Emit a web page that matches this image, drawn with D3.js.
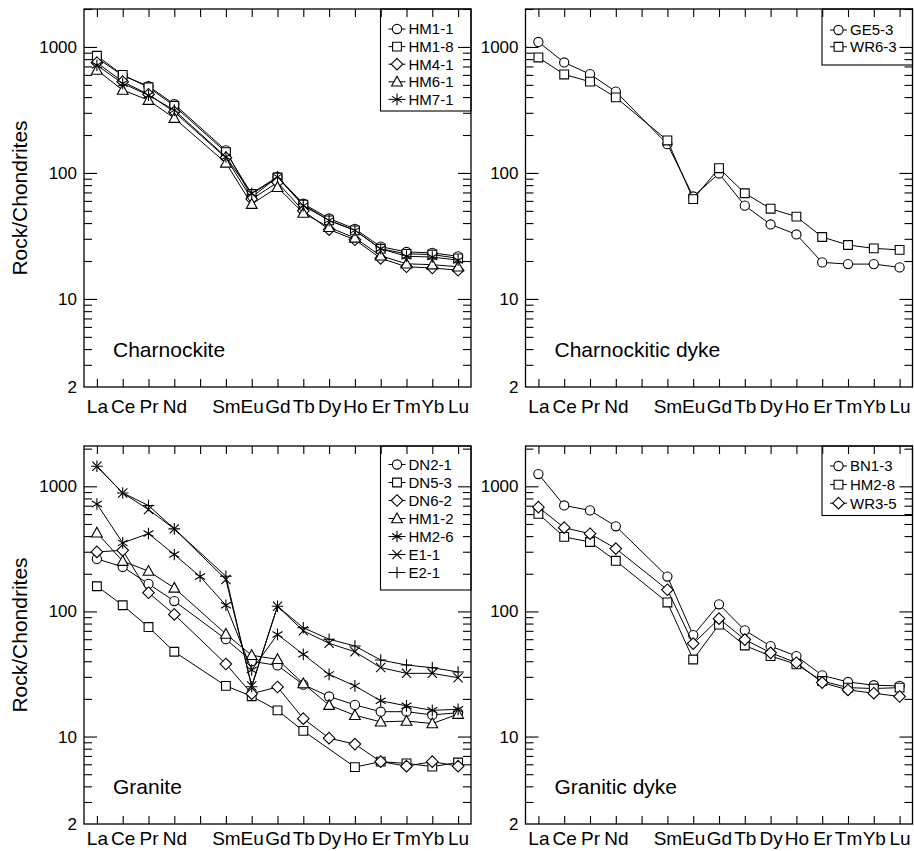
<!DOCTYPE html>
<html><head><meta charset="utf-8">
<script src="https://cdn.jsdelivr.net/npm/d3@7"></script>
<style>
body{margin:0;background:#fff}
svg{display:block}
text{font-family:"Liberation Sans",Arial,Helvetica,sans-serif;fill:#000}
</style>
</head><body>
<svg id="chart" width="914" height="851"></svg>
<script>
// ---------- categories / ticks ----------
const elements = ["La","Ce","Pr","Nd","Pm","Sm","Eu","Gd","Tb","Dy","Ho","Er","Tm","Yb","Lu"];
const elementLabels = ["La","Ce","Pr","Nd","","Sm","Eu","Gd","Tb","Dy","Ho","Er","Tm","Yb","Lu"];
const yMajorTicks = [10, 100, 1000];
const yLabelTicks = [2, 10, 100, 1000];
const yMinorTicks = [3,4,5,6,7,8,9,20,30,40,50,60,70,80,90,200,300,400,500,600,700,800,900,2000];
const yAxisTitle = "Rock/Chondrites";
const panelTitles = ["Charnockite", "Charnockitic dyke", "Granite", "Granitic dyke"];

// ---------- Charnockite ----------
const charnockiteSamples = ["HM1-1","HM1-8","HM4-1","HM6-1","HM7-1"];
const HM1_1 = [818, 593, 488, 351, null, 151, 64, 93, 57, 43.5, 36, 26, 23.6, 23.2, 21.8];
const HM1_8 = [850, 600, 478, 340, null, 146, 68, 92, 56, 42, 35, 25, 22.8, 22.5, 21];
const HM4_1 = [750, 530, 420, 305, null, 132, 62, 84, 50, 35.5, 29.5, 21, 18, 17.6, 16.9];
const HM6_1 = [655, 455, 378, 272, null, 120, 56.5, 77, 48, 37, 30.5, 22, 19, 18.7, 18];
const HM7_1 = [716, 513, 414, 315, null, 134, 69, 93, 55, 42, 35, 25, 21.8, 21.5, 20.3];

// ---------- Charnockitic dyke ----------
const charnDykeSamples = ["GE5-3","WR6-3"];
const GE5_3 = [1095, 753, 608, 442, null, 169, 65, 99, 55, 39, 32.5, 19.5, 18.9, 18.9, 17.8];
const WR6_3 = [825, 605, 530, 398, null, 181, 62, 109, 69, 52, 45, 31, 26.8, 25.2, 24.5];

// ---------- Granite ----------
const graniteSamples = ["DN2-1","DN5-3","DN6-2","HM1-2","HM2-6","E1-1","E2-1"];
const DN2_1 = [263, 227, 166, 121, null, 60, 40, 37, 26, 20.9, 17.9, 15.8, 15.8, 14.9, 15.5];
const DN5_3 = [159, 112, 75, 47.6, null, 25.4, 21, 16.2, 11.1, null, 5.7, 6.3, 6.1, 5.75, 6.2];
const DN6_2 = [299, 308, 141, 94.6, null, 38, 22, 24.9, 13.9, 9.7, 8.7, 6.3, 5.8, 6.3, 5.8];
const HM1_2 = [425, 252, 210, 154, null, 66, 44.6, 41.4, 26.5, 17.8, 14.8, 13.1, 13.3, 12.7, 15.1];
const HM2_6 = [723, 353, 419, 285, 190, 112, 34, 65.5, 45.4, 31.4, 25.4, 19.3, 17.6, 16.2, 16.5];
const E1_1 = [1445, 885, 652, 457, null, 180, 25.4, 110, 70, 55.6, 47.6, 35.6, 32, 32, 29.5];
const E2_1 = [1445, 885, 702, 457, null, 191, 25, 110, 74, 60, 52.9, 40.9, 37.3, 35.5, 32.8];

// ---------- Granitic dyke ----------
const graniticDykeSamples = ["BN1-3","HM2-8","WR3-5"];
const BN1_3 = [1253, 703, 642, 479, null, 190, 64.6, 114, 70.6, 52.8, 44, 30.8, 27.3, 25.7, 25.4];
const HM2_8 = [603, 394, 359, 254, null, 118, 41.3, 78.4, 53.4, 44, 37.8, 27.8, 24.6, 24.2, 24.6];
const WR3_5 = [681, 467, 418, 318, null, 149, 55.3, 87.5, 59.6, 46.7, 38.9, 27, 23.6, 22.2, 20.9];

// ---------- marker shapes ----------
const markerPaths = {
  circle:   "M4.6,0A4.6,4.6 0 1,1 -4.6,0A4.6,4.6 0 1,1 4.6,0Z",
  square:   "M-4.4,-4.4H4.4V4.4H-4.4Z",
  diamond:  "M0,-5.8L5.8,0L0,5.8L-5.8,0Z",
  triangle: "M0,-5.6L5.4,4.2H-5.4Z",
  asterisk: "M0,-5.8V5.8M-5,-3L5,3M-5,3L5,-3",
  xmark:    "M-4.6,-4.6L4.6,4.6M-4.6,4.6L4.6,-4.6",
  plus:     "M0,-5.8V5.8M-5.8,0H5.8"
};
const filled = {circle:true, square:true, diamond:true, triangle:true, asterisk:false, xmark:false, plus:false};

const W = 387, H = 378;
const panels = [
  {x0: 84,    y0: 9,   top: 2000, title: panelTitles[0], names: charnockiteSamples,
   series: [HM1_1, HM1_8, HM4_1, HM6_1, HM7_1], marks: ["circle","square","diamond","triangle","asterisk"],
   yTitle: true, labPad: 12.5, leg: {first: 20, row: 17.6, h: 102}},
  {x0: 525.5, y0: 9,   top: 2000, title: panelTitles[1], names: charnDykeSamples,
   series: [GE5_3, WR6_3], marks: ["circle","square"],
   yTitle: false, labPad: 12.5, leg: {first: 21, row: 16.8, h: 56}},
  {x0: 84,    y0: 446, top: 2100, title: panelTitles[2], names: graniteSamples,
   series: [DN2_1, DN5_3, DN6_2, HM1_2, HM2_6, E1_1, E2_1], marks: ["circle","square","diamond","triangle","asterisk","xmark","plus"],
   yTitle: true, labPad: 8, leg: {first: 18.5, row: 18, h: 144}},
  {x0: 525.5, y0: 446, top: 2100, title: panelTitles[3], names: graniticDykeSamples,
   series: [BN1_3, HM2_8, WR3_5], marks: ["circle","square","diamond"],
   yTitle: false, labPad: 8, leg: {first: 20, row: 18.6, h: 69.5}}
];

const svg = d3.select("#chart");

function drawMarker(g, kind, cx, cy) {
  g.append("path").attr("d", markerPaths[kind])
    .attr("transform", `translate(${cx},${cy})`)
    .attr("fill", filled[kind] ? "#fff" : "none")
    .attr("stroke", "#000").attr("stroke-width", 1.1);
}

panels.forEach(p => {
  const g = svg.append("g").attr("transform", `translate(${p.x0},${p.y0})`);
  const x = d3.scalePoint().domain(elements).range([0, W]).padding(0.5);
  const y = d3.scaleLog().domain([2, p.top]).range([H, 0]);

  const styleAxis = sel => { sel.select(".domain").remove(); sel.selectAll("line").attr("stroke","#000").attr("stroke-width",1.1); };
  const yTicks = (gg, axisFn) => {
    gg.append("g").call(axisFn(y).tickValues(yMajorTicks).tickSizeInner(-13).tickSizeOuter(0).tickFormat("")).call(styleAxis);
    gg.append("g").call(axisFn(y).tickValues(yMinorTicks).tickSizeInner(-8).tickSizeOuter(0).tickFormat("")).call(styleAxis);
  };

  // left axis
  yTicks(g, d3.axisLeft);
  const yl = g.append("g").call(d3.axisLeft(y).tickValues(yLabelTicks).tickSize(0).tickPadding(7).tickFormat(d3.format("d")));
  yl.select(".domain").remove();
  yl.selectAll("text").attr("font-size", 17).attr("font-family", "'Liberation Sans',Arial,sans-serif").attr("fill","#000");

  // bottom axis with element labels
  const xb = g.append("g").attr("transform", `translate(0,${H})`)
    .call(d3.axisBottom(x).tickSizeInner(-8).tickSizeOuter(0).tickPadding(p.labPad).tickFormat((d,i) => elementLabels[i]));
  styleAxis(xb);
  xb.selectAll("text").attr("font-size", 19).attr("font-family", "'Liberation Sans',Arial,sans-serif").attr("fill","#000");

  // panel title
  g.append("text").attr("x", 29).attr("y", H - 30).attr("font-size", 21).text(p.title);

  // series
  const line = d3.line().x(d => x(d.el)).y(d => y(d.v));
  p.series.forEach((vals, si) => {
    const pts = elements.map((el, i) => ({el, v: vals[i]})).filter(d => d.v != null);
    g.append("path").attr("d", line(pts)).attr("fill","none").attr("stroke","#000").attr("stroke-width",1);
    pts.forEach(d => drawMarker(g, p.marks[si], x(d.el), y(d.v)));
  });

  // legend
  const lx = W - 90.5;
  const lg = g.append("g");
  lg.append("rect").attr("x", lx).attr("y", 0).attr("width", W - lx).attr("height", p.leg.h)
    .attr("fill", "#fff").attr("stroke", "#000").attr("stroke-width", 1.1);
  p.names.forEach((nm, i) => {
    const cy = p.leg.first + i * p.leg.row;
    lg.append("line").attr("x1", lx + 8).attr("x2", lx + 25).attr("y1", cy).attr("y2", cy).attr("stroke","#000").attr("stroke-width",1);
    drawMarker(lg, p.marks[i], lx + 16.5, cy);
    lg.append("text").attr("x", lx + 28).attr("y", cy).attr("dy", "0.36em").attr("font-size", 15).text(nm);
  });

  // right and top ticks (drawn over the legend, as in the original)
  const gr = g.append("g").attr("transform", `translate(${W},0)`);
  yTicks(gr, d3.axisRight);
  g.append("g").call(d3.axisTop(x).tickSizeInner(-8).tickSizeOuter(0).tickFormat("")).call(styleAxis);

  // frame
  g.append("rect").attr("width", W).attr("height", H).attr("fill","none").attr("stroke","#000").attr("stroke-width",1.3);

  // y title
  if (p.yTitle) {
    g.append("text").attr("transform", `translate(${20 - p.x0},${H / 2}) rotate(-90)`)
      .attr("text-anchor","middle").attr("dy","0.35em").attr("font-size", 21).text(yAxisTitle);
  }
});
</script>
</body></html>
